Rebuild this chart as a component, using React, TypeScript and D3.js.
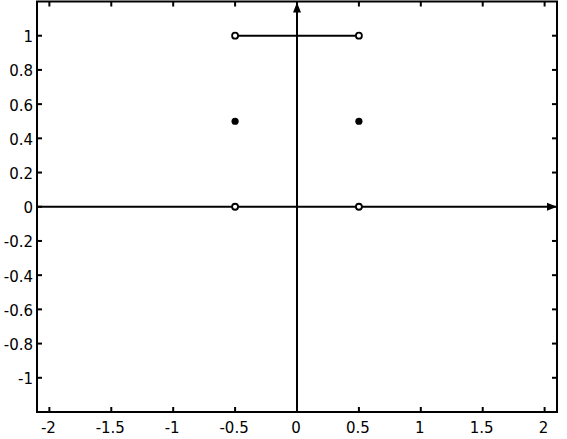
import React from "react";
import * as d3 from "d3";

const xTicks = [-2, -1.5, -1, -0.5, 0, 0.5, 1, 1.5, 2];
const yTicks = [-1, -0.8, -0.6, -0.4, -0.2, 0, 0.2, 0.4, 0.6, 0.8, 1];
const xDomain = [-2.1, 2.1];
const yDomain = [-1.2, 1.2];
const segX = [-0.5, 0.5];
const segY = [1, 1];
const openPts = [
  { x: -0.5, y: 1 },
  { x: 0.5, y: 1 },
  { x: -0.5, y: 0 },
  { x: 0.5, y: 0 },
];
const filledPts = [
  { x: -0.5, y: 0.5 },
  { x: 0.5, y: 0.5 },
];

export default function App() {
  const W = 567, H = 439;
  const L = 37, R = 557, T = 1.5, B = 412;
  const x = d3.scaleLinear().domain(xDomain).range([L, R]);
  const y = d3.scaleLinear().domain(yDomain).range([B, T]);
  const tl = 5;
  const font = "'DejaVu Sans', 'Liberation Sans', Arial, sans-serif";
  const fmt = (v: number) => (Math.abs(v) < 1e-9 ? "0" : String(+v.toFixed(2)));
  const line = d3.line<number>().x((d, i) => x(segX[i])).y((d, i) => y(segY[i]));
  const x0 = x(0), y0 = y(0);
  return (
    <svg width={W} height={H} style={{ position: "absolute", left: 0, top: 0, background: "#fff" }}>
      <rect x={0} y={0} width={W} height={H} fill="#fff" />
      {xTicks.map((t) => (
        <g key={"x" + t}>
          <line x1={x(t)} x2={x(t)} y1={B} y2={B - tl} stroke="#000" strokeWidth={2} />
          <line x1={x(t)} x2={x(t)} y1={T} y2={T + tl} stroke="#000" strokeWidth={2} />
          <text x={x(t) - 1} y={432.5} textAnchor="middle" fontFamily={font} fontSize={15}>{fmt(t)}</text>
        </g>
      ))}
      {yTicks.map((t) => (
        <g key={"y" + t}>
          <line x1={L} x2={L + tl} y1={y(t)} y2={y(t)} stroke="#000" strokeWidth={2} />
          <line x1={R} x2={R - tl} y1={y(t)} y2={y(t)} stroke="#000" strokeWidth={2} />
          <text x={33} y={y(t) + 6.5} textAnchor="end" fontFamily={font} fontSize={15}>{fmt(t)}</text>
        </g>
      ))}
      <line x1={L} x2={R - 6} y1={y0} y2={y0} stroke="#000" strokeWidth={2} />
      <path d={`M${R},${y0} L${R - 10},${y0 - 4} L${R - 10},${y0 + 4} Z`} fill="#000" />
      <line x1={x0} x2={x0} y1={B} y2={T + 6} stroke="#000" strokeWidth={2} />
      <path d={`M${x0},${T + 1} L${x0 - 4},${T + 11} L${x0 + 4},${T + 11} Z`} fill="#000" />
      <path d={line(segY) || ""} stroke="#000" strokeWidth={2} fill="none" />
      {openPts.map((p, i) => (
        <circle key={"o" + i} cx={x(p.x)} cy={y(p.y)} r={3} fill="#fff" stroke="#000" strokeWidth={1.8} />
      ))}
      {filledPts.map((p, i) => (
        <circle key={"f" + i} cx={x(p.x)} cy={y(p.y)} r={3.6} fill="#000" />
      ))}
      <rect x={L} y={T} width={R - L} height={B - T} fill="none" stroke="#000" strokeWidth={2} />
    </svg>
  );
}
